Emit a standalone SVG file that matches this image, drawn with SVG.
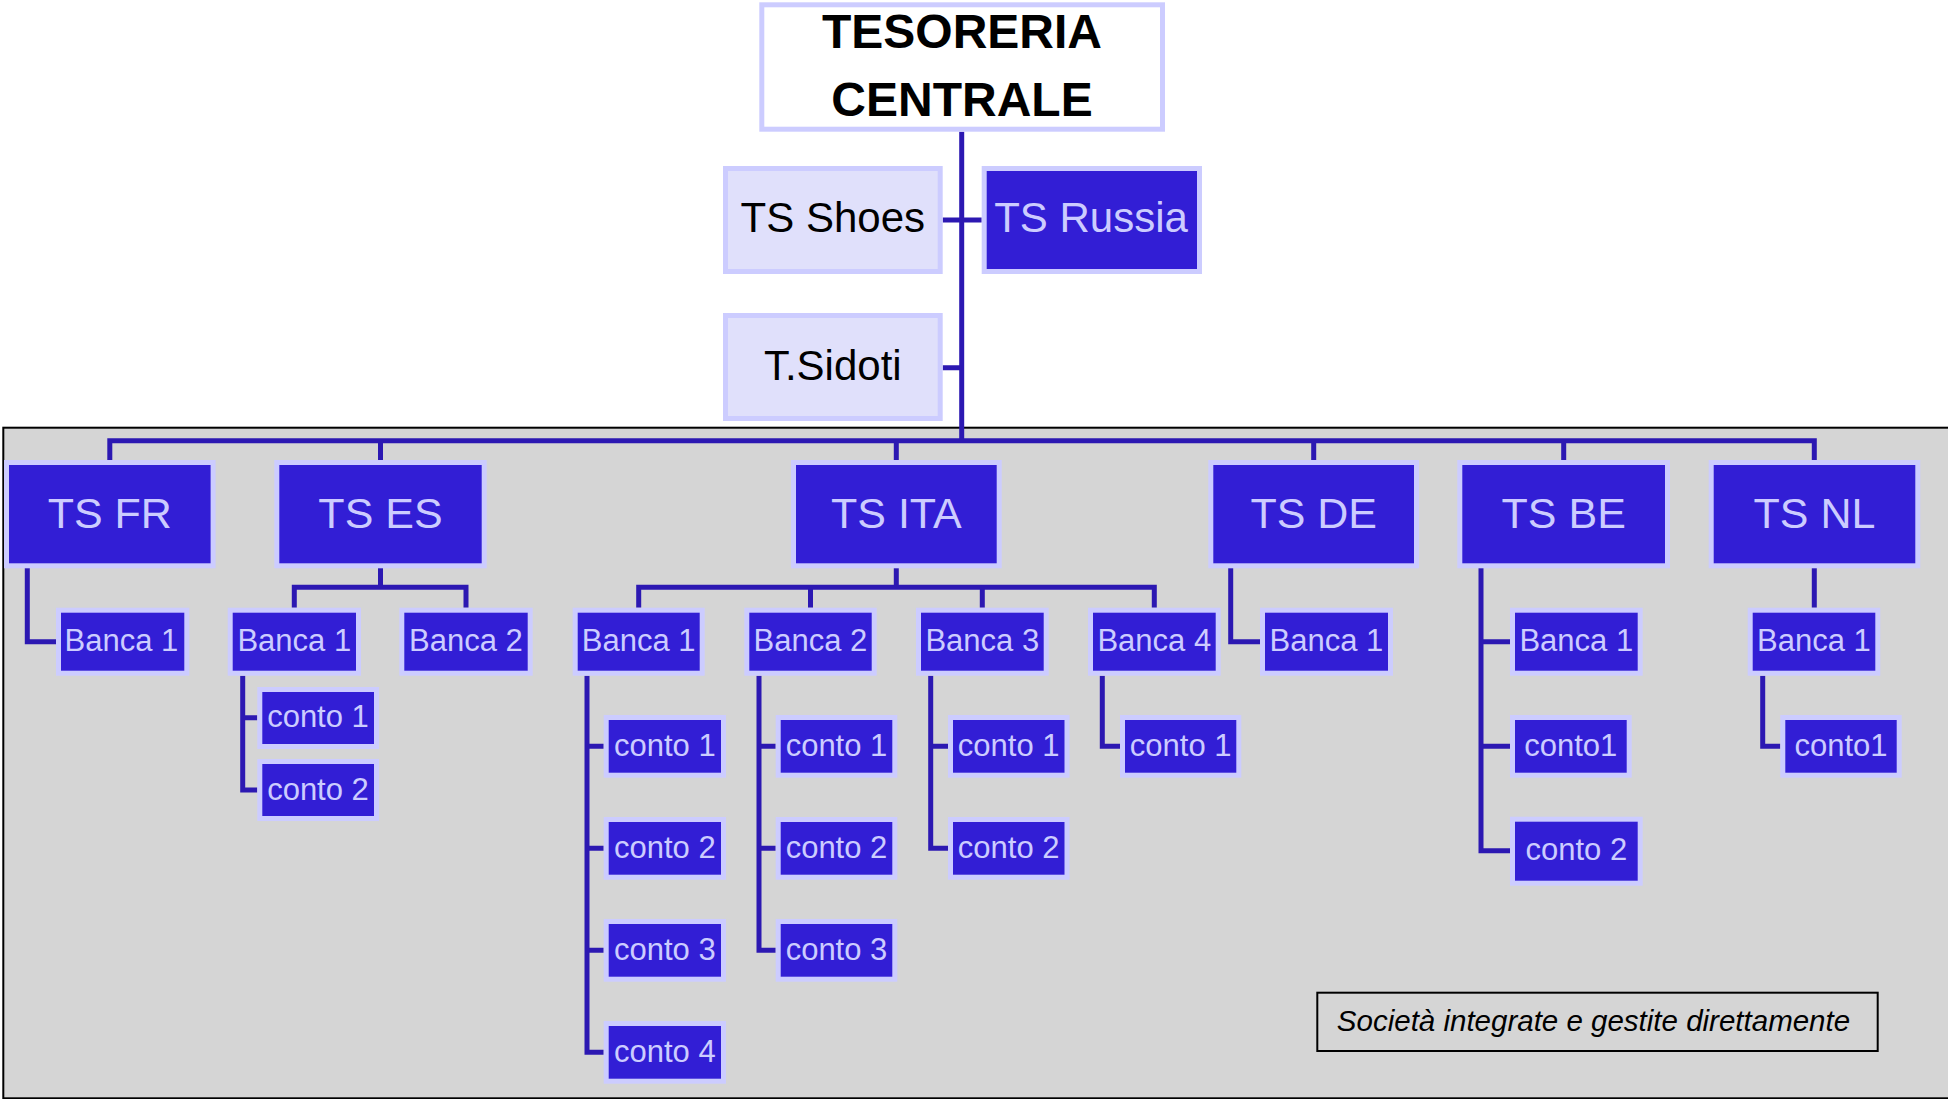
<svg xmlns="http://www.w3.org/2000/svg" width="1948" height="1099" viewBox="0 0 1948 1099">
<style>
text{font-family:"Liberation Sans",Arial,sans-serif;text-anchor:middle}
.dk rect{fill:#321ED5;stroke:#CCCCFF;stroke-width:5}
.lt rect{fill:#E0E0FB;stroke:#CCCCFF;stroke-width:5}
.dk text{fill:#CCCCFF}
.lt text{fill:#000}
.t1 text{font-size:43px}
.t2 text{font-size:31px}
.conn{fill:none;stroke:#2C18B2;stroke-width:5;stroke-linejoin:miter;stroke-linecap:butt}
</style>
<rect x="0" y="0" width="1948" height="1099" fill="#fff"/>
<rect id="panel" x="3.3" y="427.7" width="1950" height="670.6" fill="#D5D5D5" stroke="#000" stroke-width="2"/>
<g id="connectors" class="conn">
<path d="M961.7 131.7V440.7"/>
<path d="M109.8 460V440.7H1814.3V460M380.5 440.7V460M896.3 440.7V460M1313.7 440.7V460M1563.7 440.7V460"/>
<path d="M942.7 220H981.7M942.7 367.7H961.7"/>
<path d="M27.3 568V641.7H56"/>
<path d="M380.5 568V587.3M294.3 607.7V587.3H466V607.7"/>
<path d="M242.7 675.7V790H257.3M242.7 717.7H257.3"/>
<path d="M896.3 568V587.3M638.7 607.7V587.3H1154.3V607.7M810.5 587.3V607.7M982.3 587.3V607.7"/>
<path d="M587 675.7V1052.3H603.7M587 746.3H603.7M587 848.3H603.7M587 950.3H603.7"/>
<path d="M759 675.7V950.3H775.7M759 746.3H775.7M759 848.3H775.7"/>
<path d="M930.7 675.7V848.3H948M930.7 746.3H948"/>
<path d="M1102.3 675.7V746.3H1120"/>
<path d="M1230.7 568V641.7H1260"/>
<path d="M1481 568V850.7H1510M1481 641.7H1510M1481 746.3H1510"/>
<path d="M1814.3 568V607.7M1762.7 675.7V746.3H1780.3"/>
</g>
<g id="tesoreria">
<rect x="761.8" y="4.8" width="400.7" height="124.4" fill="#fff" stroke="#CCCCFF" stroke-width="5"/>
<text x="962" y="47.7" font-size="48" font-weight="bold" fill="#000">TESORERIA</text>
<text x="962" y="116" font-size="48" font-weight="bold" fill="#000">CENTRALE</text>
</g>
<g id="ts-shoes" class="lt t1"><rect x="725.5" y="168.5" width="214.7" height="103"/><text x="832.8" y="231.7" style="font-size:42px">TS Shoes</text></g>
<g id="ts-russia" class="dk t1"><rect x="984.2" y="168.5" width="215.3" height="103"/><text x="1091" y="231.7" style="font-size:42px">TS Russia</text></g>
<g id="t-sidoti" class="lt t1"><rect x="725.5" y="315.5" width="214.7" height="103"/><text x="832.8" y="380" style="font-size:42px">T.Sidoti</text></g>

<g id="ts-fr" class="dk t1"><rect x="6.5" y="462.5" width="206.6" height="103.3"/><text x="109.8" y="527.7">TS FR</text></g>
<g id="ts-es" class="dk t1"><rect x="276.8" y="462.5" width="207.4" height="103.3"/><text x="380.5" y="527.7">TS ES</text></g>
<g id="ts-ita" class="dk t1"><rect x="793.5" y="462.5" width="205.7" height="103.3"/><text x="896.3" y="527.7">TS ITA</text></g>
<g id="ts-de" class="dk t1"><rect x="1210.8" y="462.5" width="205.7" height="103.3"/><text x="1313.7" y="527.7">TS DE</text></g>
<g id="ts-be" class="dk t1"><rect x="1459.8" y="462.5" width="207.7" height="103.3"/><text x="1563.7" y="527.7">TS BE</text></g>
<g id="ts-nl" class="dk t1"><rect x="1711.2" y="462.5" width="206.6" height="103.3"/><text x="1814.5" y="527.7">TS NL</text></g>

<g id="fr-banca1" class="dk t2"><rect x="58.5" y="610.2" width="128.3" height="63"/><text x="121.5" y="650.7">Banca 1</text></g>
<g id="es-banca1" class="dk t2"><rect x="230.2" y="610.2" width="128.3" height="63"/><text x="294.3" y="650.7">Banca 1</text></g>
<g id="es-banca2" class="dk t2"><rect x="401.8" y="610.2" width="128.4" height="63"/><text x="466" y="650.7">Banca 2</text></g>
<g id="ita-banca1" class="dk t2"><rect x="575.2" y="610.2" width="127" height="63"/><text x="638.7" y="650.7">Banca 1</text></g>
<g id="ita-banca2" class="dk t2"><rect x="746.8" y="610.2" width="127.4" height="63"/><text x="810.5" y="650.7">Banca 2</text></g>
<g id="ita-banca3" class="dk t2"><rect x="918.5" y="610.2" width="127.7" height="63"/><text x="982.3" y="650.7">Banca 3</text></g>
<g id="ita-banca4" class="dk t2"><rect x="1090.5" y="610.2" width="127.7" height="63"/><text x="1154.3" y="650.7">Banca 4</text></g>
<g id="de-banca1" class="dk t2"><rect x="1262.5" y="610.2" width="128" height="63"/><text x="1326.5" y="650.7">Banca 1</text></g>
<g id="be-banca1" class="dk t2"><rect x="1512.5" y="610.2" width="127.7" height="63"/><text x="1576.3" y="650.7">Banca 1</text></g>
<g id="nl-banca1" class="dk t2"><rect x="1750.2" y="610.2" width="127.6" height="63"/><text x="1814" y="650.7">Banca 1</text></g>

<g id="es-conto1" class="dk t2"><rect x="259.8" y="689.5" width="116.7" height="57"/><text x="318" y="726.7">conto 1</text></g>
<g id="es-conto2" class="dk t2"><rect x="259.8" y="761.5" width="116.7" height="57"/><text x="318" y="800">conto 2</text></g>

<g id="ita-b1-conto1" class="dk t2"><rect x="606.2" y="717.5" width="117.3" height="57.7"/><text x="664.8" y="756">conto 1</text></g>
<g id="ita-b1-conto2" class="dk t2"><rect x="606.2" y="819.5" width="117.3" height="57.7"/><text x="664.8" y="858">conto 2</text></g>
<g id="ita-b1-conto3" class="dk t2"><rect x="606.2" y="921.5" width="117.3" height="57.7"/><text x="664.8" y="960">conto 3</text></g>
<g id="ita-b1-conto4" class="dk t2"><rect x="606.2" y="1023.5" width="117.3" height="57.7"/><text x="664.8" y="1062">conto 4</text></g>
<g id="ita-b2-conto1" class="dk t2"><rect x="778.2" y="717.5" width="116.6" height="57.7"/><text x="836.5" y="756">conto 1</text></g>
<g id="ita-b2-conto2" class="dk t2"><rect x="778.2" y="819.5" width="116.6" height="57.7"/><text x="836.5" y="858">conto 2</text></g>
<g id="ita-b2-conto3" class="dk t2"><rect x="778.2" y="921.5" width="116.6" height="57.7"/><text x="836.5" y="960">conto 3</text></g>
<g id="ita-b3-conto1" class="dk t2"><rect x="950.5" y="717.5" width="116.5" height="57.7"/><text x="1008.7" y="756">conto 1</text></g>
<g id="ita-b3-conto2" class="dk t2"><rect x="950.5" y="819.5" width="116.5" height="57.7"/><text x="1008.7" y="858">conto 2</text></g>
<g id="ita-b4-conto1" class="dk t2"><rect x="1122.5" y="717.5" width="116.3" height="57.7"/><text x="1180.7" y="756">conto 1</text></g>

<g id="be-conto1" class="dk t2"><rect x="1512.5" y="717.5" width="116.7" height="57.7"/><text x="1570.8" y="756">conto1</text></g>
<g id="be-conto2" class="dk t2"><rect x="1512.5" y="819.2" width="127.7" height="64"/><text x="1576.3" y="860">conto 2</text></g>
<g id="nl-conto1" class="dk t2"><rect x="1782.8" y="717.5" width="116.4" height="57.7"/><text x="1841" y="756">conto1</text></g>

<g id="legend">
<rect x="1317.3" y="992.7" width="560.4" height="58.3" fill="none" stroke="#000" stroke-width="2"/>
<text x="1593.5" y="1030.7" font-size="29.5" font-style="italic" fill="#000">Società integrate e gestite direttamente</text>
</g>
</svg>
